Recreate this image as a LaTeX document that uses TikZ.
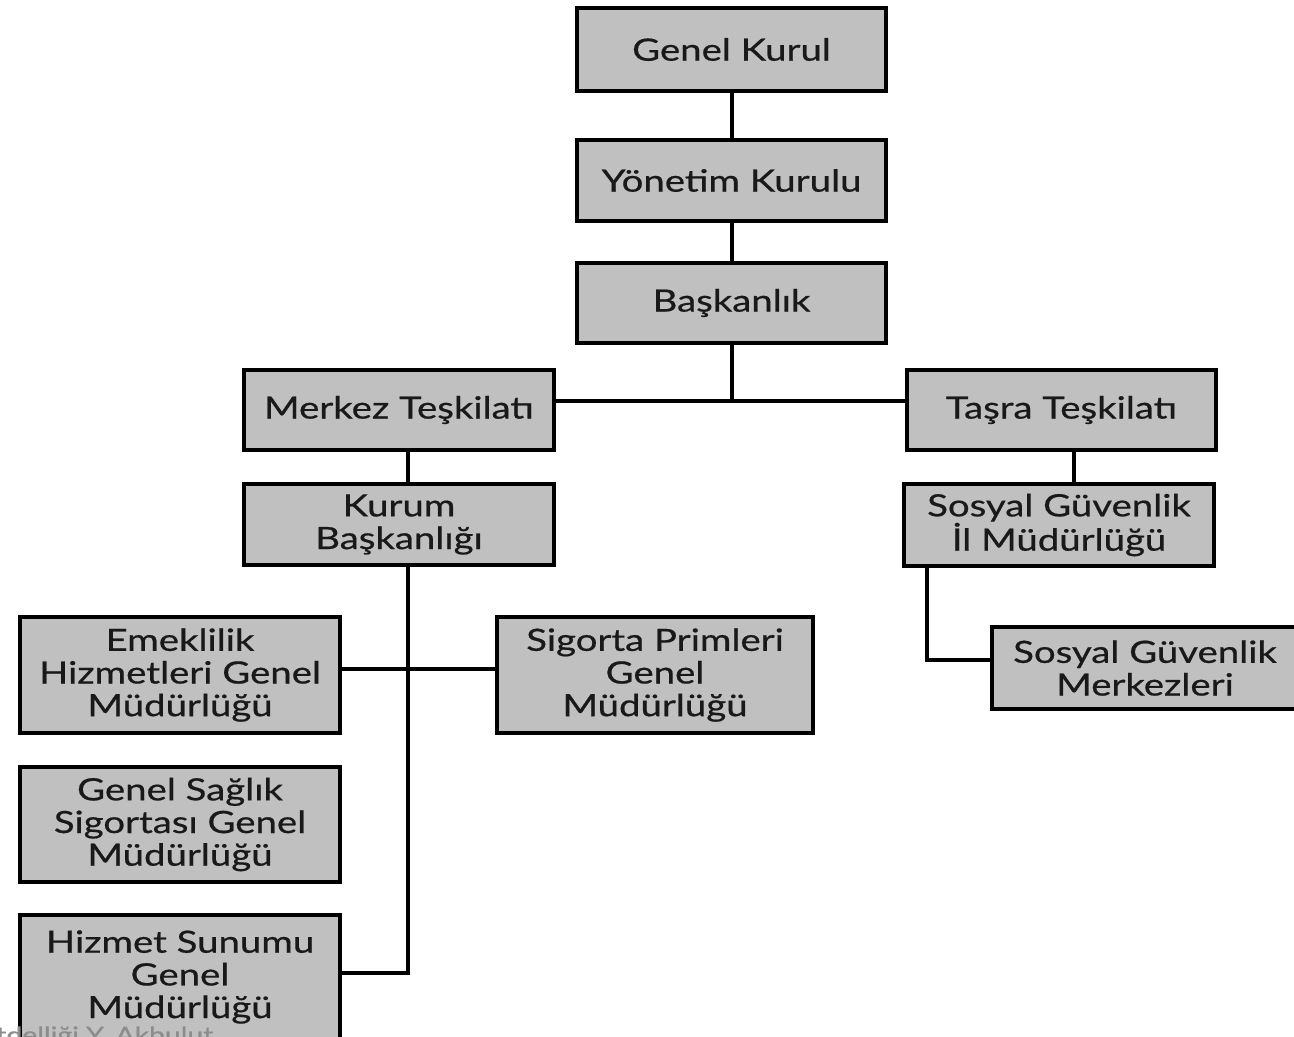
\documentclass[tikz,border=0pt]{standalone}
\usepackage{fontspec}
\setmainfont[FakeStretch=1.25,FakeBold=0.6]{Lato}
\begin{document}
\begin{tikzpicture}[x=0.75pt,y=-0.75pt,
  box/.style={draw=black, fill=boxgray, line width=3.2pt, rectangle, inner sep=0pt,
    align=center, font=\fontsize{23}{24.5}\selectfont, text=black!90},
  conn/.style={draw=black, line width=3pt}]
\definecolor{boxgray}{HTML}{C0C0C0}
\useasboundingbox (0,0) rectangle (1294,1036);
\clip (0,0) rectangle (1294,1036);
\fill[white] (0,0) rectangle (1294,1036);

\node[box, minimum width=231.75pt, minimum height=62.25pt] (gk) at (731.5,49.5) {Genel Kurul};
\node[box, minimum width=231.75pt, minimum height=60.75pt] (yk) at (731.5,180.5) {Yönetim Kurulu};
\node[box, minimum width=231.75pt, minimum height=60pt] (bk) at (731.5,303) {Başkanlık};
\node[box, minimum width=232.5pt, minimum height=60pt] (mt) at (399,410) {Merkez Teşkilatı};
\node[box, minimum width=231.75pt, minimum height=60pt] (tt) at (1061.5,410) {Taşra Teşkilatı};
\node[box, minimum width=232.5pt, minimum height=60.75pt] (kb) at (399,524.5) {Kurum\\Başkanlığı};
\node[box, minimum width=232.5pt, minimum height=61.5pt] (sgil) at (1059,525) {Sosyal Güvenlik\\İl Müdürlüğü};
\node[box, minimum width=229.5pt, minimum height=61.5pt] (sgm) at (1145,668) {Sosyal Güvenlik\\Merkezleri};
\node[box, minimum width=240pt, minimum height=87pt] (emk) at (180,675) {Emeklilik\\Hizmetleri Genel\\Müdürlüğü};
\node[box, minimum width=237pt, minimum height=87pt] (spg) at (655,675) {Sigorta Primleri\\Genel\\Müdürlüğü};
\node[box, minimum width=240pt, minimum height=86.25pt] (gss) at (180,824.5) {Genel Sağlık\\Sigortası Genel\\Müdürlüğü};
\node[box, minimum width=240pt, minimum height=93pt] (hsg) at (180,977) {Hizmet Sunumu\\Genel\\Müdürlüğü};

\coordinate (j1) at (731.5,401);
\coordinate (kx) at (408,0);
\coordinate (k2) at (408,973);
\coordinate (e1) at (408,669);
\coordinate (tx) at (1074,0);
\coordinate (s2) at (927,660);

\draw[conn] (gk.south) -- (yk.north);
\draw[conn] (yk.south) -- (bk.north);
\draw[conn] (bk.south) -- (j1);
\draw[conn] (j1 -| mt.east) -- (j1 -| tt.west);
\draw[conn] (mt.south -| kx) -- (kb.north -| kx);
\draw[conn] (kb.south -| kx) -- (k2) -- (k2 -| hsg.east);
\draw[conn] (e1 -| emk.east) -- (e1 -| spg.west);
\draw[conn] (tt.south -| tx) -- (sgil.north -| tx);
\draw[conn] (sgil.south -| s2) -- (s2) -- (s2 -| sgm.west);

\node[anchor=base west, inner sep=0pt, text=black!45, font=\fontsize{17}{17}\selectfont] (wm) at (-4,1043) {tdelliği Y. Akbulut};
\end{tikzpicture}
\end{document}
